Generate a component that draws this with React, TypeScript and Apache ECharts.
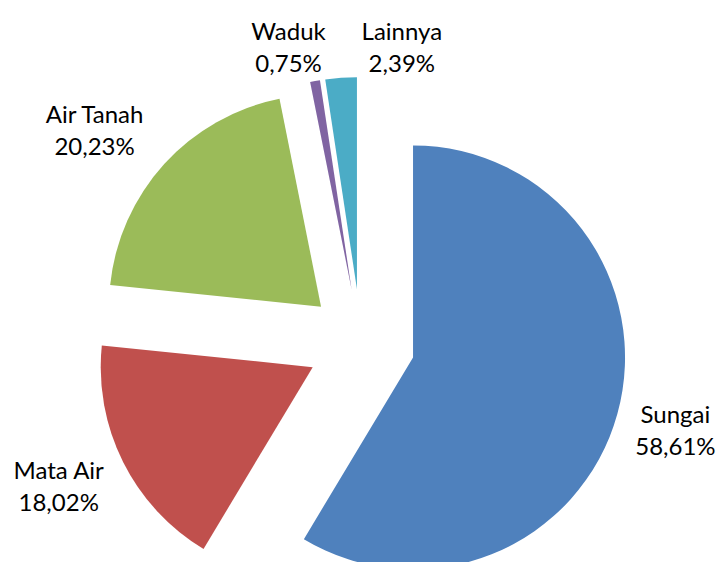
import React, { useEffect, useRef } from 'react';
import * as echarts from 'echarts';

const categories = ['Sungai', 'Mata Air', 'Air Tanah', 'Waduk', 'Lainnya'];
const values = [58.61, 18.02, 20.23, 0.75, 2.39];
const colors = ['#4F81BD', '#C0504D', '#9BBB59', '#8064A2', '#4BACC6'];

// layout constants (pixels)
const CX = 361;
const CY = 343;
const RADIUS = 212;
const EXPLODE = 54;
const labelRadial = [60, 68, 75, 39, 27];
const labelSide = [-1, 8, -21, -20, 63];

export default function App() {
  const ref = useRef<HTMLDivElement>(null);
  useEffect(() => {
    document.body.style.margin = '0';
    const chart = echarts.init(ref.current as HTMLDivElement, null, { renderer: 'svg' });
    const total = values.reduce((a, b) => a + b, 0);
    const mids: number[] = [];
    let acc = 0;
    values.forEach((v) => {
      mids.push(((acc + v / 2) / total) * 2 * Math.PI);
      acc += v;
    });
    const labels = categories.map((name, i) => {
      const a = mids[i];
      const bx = Math.sin(a);
      const by = -Math.cos(a);
      const px = -by;
      const py = bx;
      const vx = CX + EXPLODE * bx;
      const vy = CY + EXPLODE * by;
      const r = RADIUS + labelRadial[i];
      return {
        type: 'text',
        x: vx + bx * r + px * labelSide[i],
        y: vy + by * r + py * labelSide[i],
        silent: true,
        style: {
          text: name + '\n' + values[i].toFixed(2).replace('.', ',') + '%',
          fontFamily: 'Lato',
          fontSize: 24,
          lineHeight: 32,
          fill: '#000',
          align: 'center',
          verticalAlign: 'middle',
        },
      };
    });
    chart.setOption({
      animation: false,
      graphic: labels,
      series: [
        {
          type: 'pie',
          center: [CX, CY],
          radius: RADIUS,
          startAngle: 90,
          clockwise: true,
          selectedMode: 'multiple',
          selectedOffset: EXPLODE,
          emphasis: { disabled: true },
          label: { show: false },
          labelLine: { show: false },
          data: categories.map((name, i) => ({
            name,
            value: values[i],
            selected: true,
            itemStyle: { color: colors[i] },
          })),
          select: { itemStyle: { borderWidth: 0 } },
        },
      ],
    });
    return () => chart.dispose();
  }, []);
  return <div ref={ref} style={{ width: 716, height: 562 }} />;
}
